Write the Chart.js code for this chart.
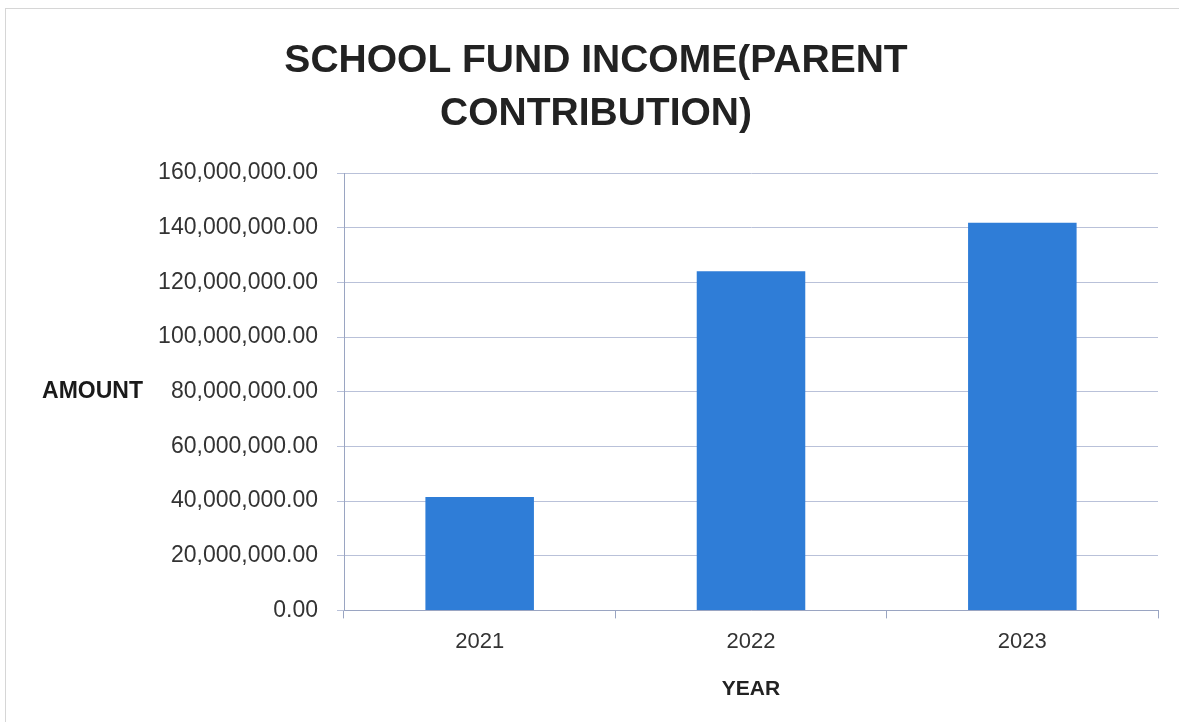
<!DOCTYPE html>
<html>
<head>
<meta charset="utf-8">
<script src="https://cdn.jsdelivr.net/npm/chart.js@4"></script>
<style>
  body { margin: 0; background: #fff; }
  #wrap { position: relative; width: 1179px; height: 722px; }
  #frame { position: absolute; left: 5px; top: 8px; right: 0; bottom: 0; border-top: 1px solid #d6d6d6; border-left: 1px solid #d6d6d6; }
  canvas { position: absolute; left: 0; top: 0; }
</style>
</head>
<body>
<div id="wrap">
  <div id="frame"></div>
  <canvas id="fundChart" width="1179" height="722"></canvas>
</div>
<script>
// Data
const years = ['2021', '2022', '2023'];
const amounts = [41500000, 124100000, 141800000];
const titleLines = ['SCHOOL FUND INCOME(PARENT', 'CONTRIBUTION)'];
const yTitle = 'AMOUNT';
const xTitle = 'YEAR';

const FONT = "'Liberation Sans', Arial, sans-serif";

// draws the horizontal "AMOUNT" label left of the y axis
const amountLabel = {
    id: 'amountLabel',
    afterDraw(chart) {
        const { ctx, chartArea } = chart;
        ctx.save();
        ctx.font = 'bold 23px ' + FONT;
        ctx.fillStyle = '#1a1a1a';
        ctx.textAlign = 'right';
        ctx.textBaseline = 'middle';
        ctx.fillText(yTitle, 143, (chartArea.top + chartArea.bottom) / 2);
        ctx.restore();
    }
};

const ctx = document.getElementById('fundChart').getContext('2d');
new Chart(ctx, {
    type: 'bar',
    data: {
        labels: years,
        datasets: [{
            data: amounts,
            backgroundColor: '#2f7dd7',
            barPercentage: 0.4,
            categoryPercentage: 1.0
        }]
    },
    options: {
        responsive: false,
        animation: false,
        layout: { padding: { left: 34, right: 21, top: 0, bottom: 20 } },
        plugins: {
            legend: { display: false },
            tooltip: { enabled: false },
            title: {
                display: true,
                text: titleLines,
                color: '#222',
                font: { family: FONT, size: 39, weight: 'bold', lineHeight: 1.36 },
                padding: { top: 35, bottom: 32 }
            }
        },
        scales: {
            x: {
                grid: { drawOnChartArea: false, drawTicks: true, tickLength: 8, color: '#9aa5c2', offset: true },
                border: { color: '#9aa5c2' },
                ticks: { color: '#333', font: { family: FONT, size: 22 }, padding: 10 },
                title: {
                    display: true,
                    text: xTitle,
                    color: '#222',
                    font: { family: FONT, size: 21, weight: 'bold' },
                    padding: { top: 12, bottom: 0 }
                }
            },
            y: {
                min: 0,
                max: 160000000,
                afterFit(scale) { scale.width = 310; },
                grid: { color: '#b9c1d9', tickLength: 7 },
                border: { color: '#9aa5c2' },
                ticks: {
                    stepSize: 20000000,
                    color: '#333',
                    padding: 19,
                    font: { family: FONT, size: 23 },
                    callback: v => v.toLocaleString('en-US', { minimumFractionDigits: 2, maximumFractionDigits: 2 })
                }
            }
        }
    },
    plugins: [amountLabel]
});
</script>
</body>
</html>
